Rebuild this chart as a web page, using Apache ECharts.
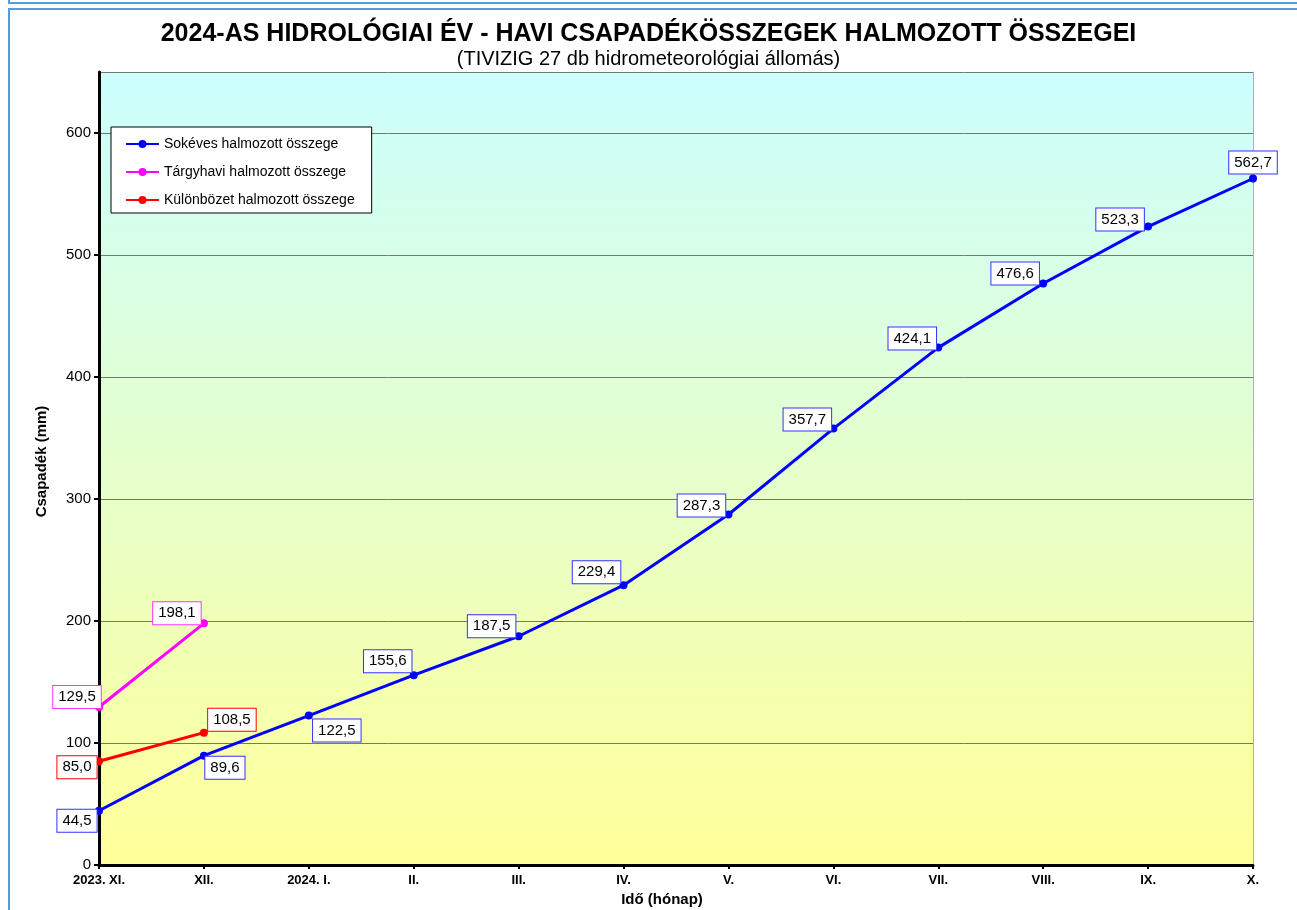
<!DOCTYPE html>
<html>
<head>
<meta charset="utf-8">
<title>Csapadékösszegek</title>
<script src="https://cdn.jsdelivr.net/npm/echarts@6/dist/echarts.min.js"></script>
<style>
  html, body { margin: 0; padding: 0; background: #fff; }
  #chart { width: 1297px; height: 910px; }
</style>
</head>
<body>
<div id="chart"></div>
<script>
// Adatok
const months = ['2023. XI.', 'XII.', '2024. I.', 'II.', 'III.', 'IV.', 'V.', 'VI.', 'VII.', 'VIII.', 'IX.', 'X.'];
const sokeves = [44.5, 89.6, 122.5, 155.6, 187.5, 229.4, 287.3, 357.7, 424.1, 476.6, 523.3, 562.7];
const targyhavi = [129.5, 198.1];
const kulonbozet = [85.0, 108.5];

// címke eltolások (px) pontonként
const sokevesOffsets = [[-22, 10], [21, 12], [28, 15], [-26, -14], [-27, -10], [-27, -13], [-27, -9], [-26, -9], [-26, -9], [-28, -10], [-28, -7], [0, -16]];
const targyhaviOffsets = [[-22, -10], [-27, -10]];
const kulonbozetOffsets = [[-22, 6], [28, -13]];

const FONT = 'Arial, "Liberation Sans", sans-serif';

function fmt(v) {
    return v.toFixed(1).replace('.', ',');
}

function makeSeries(name, color, boxColor, values, offsets) {
    const data = values.map(function (v, i) {
        return { value: v, label: { offset: offsets[i], borderColor: boxColor } };
    });
    return {
        name: name,
        type: 'line',
        data: data,
        symbol: 'circle',
        symbolSize: 8,
        z: 3,
        lineStyle: { color: color, width: 3 },
        itemStyle: { color: color },
        label: {
            show: true,
            position: 'inside',
            formatter: function (p) { return fmt(p.value); },
            fontFamily: FONT,
            fontSize: 15,
            lineHeight: 17,
            color: '#000',
            backgroundColor: '#fff',
            borderColor: boxColor,
            borderWidth: 1,
            padding: [3, 5, 2, 5]
        },
        emphasis: { disabled: true }
    };
}

const chart = echarts.init(document.getElementById('chart'));

const option = {
    animation: false,
    backgroundColor: '#fff',
    textStyle: { fontFamily: FONT },
    title: {
        text: '2024-AS HIDROLÓGIAI ÉV - HAVI CSAPADÉKÖSSZEGEK HALMOZOTT ÖSSZEGEI',
        subtext: '(TIVIZIG 27 db hidrometeorológiai állomás)',
        left: 'center',
        top: 17,
        itemGap: 2,
        textStyle: { fontFamily: FONT, fontSize: 25, fontWeight: 'bold', color: '#000' },
        subtextStyle: { fontFamily: FONT, fontSize: 20, color: '#000' }
    },
    legend: {
        orient: 'vertical',
        left: 111,
        top: 127,
        backgroundColor: '#fff',
        borderColor: '#000',
        borderWidth: 1,
        padding: [10, 17, 6, 14],
        itemWidth: 33,
        itemHeight: 10,
        itemGap: 14,
        textStyle: { fontFamily: FONT, fontSize: 14, color: '#000' },
        data: ['Sokéves halmozott összege', 'Tárgyhavi halmozott összege', 'Különbözet halmozott összege']
    },
    grid: {
        left: 99,
        right: 44,
        top: 72,
        bottom: 45,
        outerBoundsMode: 'none',
        containLabel: false,
        show: true,
        borderWidth: 0,
        backgroundColor: {
            type: 'linear', x: 0, y: 0, x2: 0, y2: 1,
            colorStops: [
                { offset: 0, color: '#ccffff' },
                { offset: 1, color: '#ffff99' }
            ]
        }
    },
    xAxis: {
        type: 'category',
        data: months,
        boundaryGap: false,
        name: 'Idő (hónap)',
        nameLocation: 'middle',
        nameGap: 27,
        nameTextStyle: { fontFamily: FONT, fontSize: 15, fontWeight: 'bold', color: '#000', padding: [0, 28, 0, 0] },
        axisLine: { lineStyle: { color: '#000', width: 3 } },
        axisTick: { show: true, length: 4, lineStyle: { color: '#000', width: 2 } },
        axisLabel: { fontFamily: FONT, fontSize: 13, fontWeight: 'bold', color: '#000', margin: 9 },
        splitLine: { show: false }
    },
    yAxis: [
        {
            type: 'value',
            min: 0,
            max: 650,
            interval: 100,
            name: 'Csapadék (mm)',
            nameLocation: 'middle',
            nameGap: 50,
            nameTextStyle: { fontFamily: FONT, fontSize: 15, fontWeight: 'bold', color: '#000', padding: [0, 0, 0, 14] },
            axisLine: { show: true, lineStyle: { color: '#000', width: 3 } },
            axisTick: { show: true, length: 5, lineStyle: { color: '#000', width: 2 } },
            axisLabel: { fontFamily: FONT, fontSize: 15, color: '#000', margin: 8,
                showMaxLabel: false },
            splitLine: { show: true, lineStyle: { color: '#707a70', width: 1 } }
        },
        {
            type: 'value',
            position: 'right',
            min: 0,
            max: 650,
            axisLine: { show: true, lineStyle: { color: '#b0b0b0', width: 1 } },
            axisTick: { show: false },
            axisLabel: { show: false },
            splitLine: { show: false }
        }
    ],
    graphic: [
        { type: 'rect', shape: { x: 8, y: 2, width: 1289, height: 2 }, style: { fill: '#5b9bd5' } },
        { type: 'rect', shape: { x: 8, y: 0, width: 2, height: 4 }, style: { fill: '#5b9bd5' } },
        { type: 'rect', shape: { x: 8, y: 8, width: 1289, height: 2 }, style: { fill: '#5b9bd5' } },
        { type: 'rect', shape: { x: 8, y: 8, width: 2, height: 902 }, style: { fill: '#5b9bd5' } }
    ],
    series: [
        makeSeries('Sokéves halmozott összege', '#0000ff', '#3333ff', sokeves, sokevesOffsets),
        makeSeries('Tárgyhavi halmozott összege', '#ff00ff', '#ff33ff', targyhavi, targyhaviOffsets),
        makeSeries('Különbözet halmozott összege', '#ff0000', '#ff0000', kulonbozet, kulonbozetOffsets)
    ]
};

chart.setOption(option);
</script>
</body>
</html>
